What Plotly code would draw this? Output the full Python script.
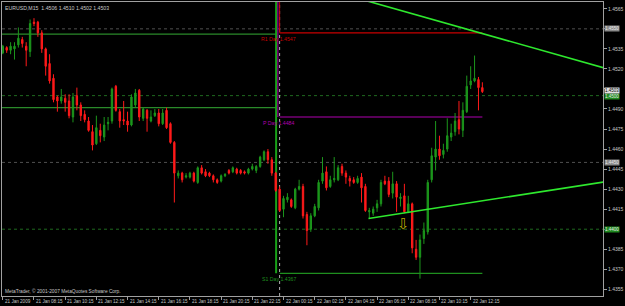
import plotly.graph_objects as go

# ---------------- data ----------------
bars = list(range(124))
open_ = [1.4532, 1.4536, 1.4534, 1.4535, 1.4538, 1.4542, 1.4537, 1.4533, 1.4555, 1.4555,
         1.4547, 1.4535, 1.4524, 1.4513, 1.4499, 1.4496, 1.4498, 1.4496, 1.4484, 1.4500,
         1.4493, 1.4486, 1.4481, 1.4473, 1.4464, 1.4474, 1.4469, 1.4479, 1.4481, 1.4507,
         1.4488, 1.4482, 1.4481, 1.4478, 1.4493, 1.4504, 1.4483, 1.4489, 1.4481, 1.4485,
         1.4487, 1.4479, 1.4489, 1.4479, 1.4465, 1.4440, 1.4442, 1.4439, 1.4439, 1.4442,
         1.4435, 1.4446, 1.4443, 1.4442, 1.4440, 1.4437, 1.4436, 1.4440, 1.4444, 1.4443,
         1.4445, 1.4444, 1.4443, 1.4442, 1.4445, 1.4444, 1.4447, 1.4452, 1.4458, 1.4452,
         1.4442, 1.4430, 1.4415, 1.4422, 1.4422, 1.4416, 1.4430, 1.4432, 1.4411, 1.4400,
         1.4410, 1.4416, 1.4436, 1.4443, 1.4432, 1.4437, 1.4437, 1.4447, 1.4442, 1.4438,
         1.4437, 1.4435, 1.4439, 1.4432, 1.4413, 1.4412, 1.4416, 1.4419, 1.4436, 1.4436,
         1.4427, 1.4434, 1.4423, 1.4425, 1.4413, 1.4419, 1.4385, 1.4379, 1.4393, 1.4398,
         1.4437, 1.4454, 1.4460, 1.4456, 1.4460, 1.4469, 1.4473, 1.4482, 1.4474, 1.4488,
         1.4508, 1.4511, 1.4512, 1.4506]
high = [1.4538, 1.4537, 1.4540, 1.4540, 1.4551, 1.4544, 1.4540, 1.4557, 1.4558, 1.4556,
        1.4549, 1.4536, 1.4531, 1.4516, 1.4500, 1.4505, 1.4501, 1.4501, 1.4502, 1.4506,
        1.4495, 1.4489, 1.4484, 1.4478, 1.4485, 1.4479, 1.4484, 1.4484, 1.4506, 1.4508,
        1.4490, 1.4496, 1.4488, 1.4501, 1.4505, 1.4505, 1.4491, 1.4490, 1.4489, 1.4490,
        1.4490, 1.4490, 1.4491, 1.4480, 1.4466, 1.4444, 1.4443, 1.4442, 1.4443, 1.4443,
        1.4447, 1.4448, 1.4445, 1.4443, 1.4441, 1.4438, 1.4441, 1.4442, 1.4445, 1.4447,
        1.4446, 1.4445, 1.4444, 1.4446, 1.4449, 1.4448, 1.4455, 1.4459, 1.4460, 1.4454,
        1.4443, 1.4432, 1.4425, 1.4427, 1.4423, 1.4431, 1.4437, 1.4434, 1.4413, 1.4412,
        1.4419, 1.4437, 1.4454, 1.4447, 1.4440, 1.4454, 1.4448, 1.4449, 1.4444, 1.4440,
        1.4439, 1.4440, 1.4442, 1.4434, 1.4416, 1.4417, 1.4422, 1.4437, 1.4440, 1.4439,
        1.4443, 1.4436, 1.4427, 1.4434, 1.4425, 1.4420, 1.4392, 1.4396, 1.4405, 1.4437,
        1.4461, 1.4481, 1.4470, 1.4464, 1.4483, 1.4479, 1.4487, 1.4496, 1.4495, 1.4515,
        1.4522, 1.4530, 1.4514, 1.4510]
low = [1.4531, 1.4532, 1.4531, 1.4527, 1.4536, 1.4536, 1.4522, 1.4529, 1.4552, 1.4544,
       1.4532, 1.4515, 1.4509, 1.4495, 1.4488, 1.4494, 1.4488, 1.4483, 1.4480, 1.4489,
       1.4481, 1.4480, 1.4473, 1.4459, 1.4463, 1.4465, 1.4466, 1.4474, 1.4479, 1.4488,
       1.4476, 1.4478, 1.4473, 1.4477, 1.4491, 1.4481, 1.4481, 1.4473, 1.4480, 1.4484,
       1.4477, 1.4478, 1.4475, 1.4464, 1.4420, 1.4438, 1.4435, 1.4438, 1.4438, 1.4435,
       1.4434, 1.4441, 1.4439, 1.4439, 1.4435, 1.4434, 1.4435, 1.4439, 1.4441, 1.4442,
       1.4441, 1.4441, 1.4441, 1.4441, 1.4444, 1.4442, 1.4446, 1.4451, 1.4449, 1.4440,
       1.4428, 1.4413, 1.4409, 1.4420, 1.4416, 1.4415, 1.4429, 1.4408, 1.4388, 1.4398,
       1.4409, 1.4414, 1.4434, 1.4429, 1.4431, 1.4435, 1.4436, 1.4440, 1.4434, 1.4432,
       1.4434, 1.4434, 1.4420, 1.4413, 1.4408, 1.4410, 1.4413, 1.4417, 1.4433, 1.4424,
       1.4423, 1.4413, 1.4417, 1.4412, 1.4412, 1.4382, 1.4377, 1.4363, 1.4389, 1.4396,
       1.4435, 1.4444, 1.4452, 1.4453, 1.4458, 1.4466, 1.4470, 1.4471, 1.4469, 1.4487,
       1.4505, 1.4510, 1.4489, 1.4502]
close = [1.4537, 1.4534, 1.4537, 1.4537, 1.4543, 1.4539, 1.4534, 1.4554, 1.4554, 1.4547,
         1.4535, 1.4522, 1.4511, 1.4497, 1.4496, 1.4499, 1.4495, 1.4485, 1.4499, 1.4493,
         1.4485, 1.4482, 1.4474, 1.4463, 1.4476, 1.4470, 1.4478, 1.4480, 1.4505, 1.4489,
         1.4481, 1.4481, 1.4478, 1.4499, 1.4502, 1.4484, 1.4490, 1.4483, 1.4484, 1.4487,
         1.4479, 1.4487, 1.4476, 1.4465, 1.4442, 1.4442, 1.4437, 1.4440, 1.4442, 1.4436,
         1.4446, 1.4442, 1.4440, 1.4440, 1.4437, 1.4435, 1.4440, 1.4441, 1.4442, 1.4446,
         1.4442, 1.4442, 1.4442, 1.4445, 1.4447, 1.4447, 1.4454, 1.4458, 1.4452, 1.4442,
         1.4429, 1.4414, 1.4423, 1.4424, 1.4417, 1.4430, 1.4432, 1.4410, 1.4399, 1.4410,
         1.4417, 1.4435, 1.4442, 1.4431, 1.4437, 1.4438, 1.4446, 1.4442, 1.4439, 1.4436,
         1.4435, 1.4438, 1.4431, 1.4414, 1.4414, 1.4415, 1.4419, 1.4435, 1.4434, 1.4426,
         1.4434, 1.4424, 1.4424, 1.4413, 1.4419, 1.4386, 1.4379, 1.4392, 1.4399, 1.4435,
         1.4455, 1.4460, 1.4455, 1.4459, 1.4470, 1.4472, 1.4481, 1.4475, 1.4489, 1.4507,
         1.4511, 1.4513, 1.4506, 1.4503]

tick_bars = [0, 8, 16, 24, 32, 40, 48, 56, 64, 72, 80, 88, 96, 104, 112, 120]
tick_labels = ["21 Jan 2009", "21 Jan 08:15", "21 Jan 10:15", "21 Jan 12:15",
               "21 Jan 14:15", "21 Jan 16:15", "21 Jan 18:15", "21 Jan 20:15",
               "21 Jan 22:15", "22 Jan 00:15", "22 Jan 02:15", "22 Jan 04:15",
               "22 Jan 06:15", "22 Jan 08:15", "22 Jan 10:15", "22 Jan 12:15"]
price_ticks = [1.4355, 1.4370, 1.4385, 1.4400, 1.4415, 1.4430, 1.4445, 1.4460,
               1.4475, 1.4490, 1.4505, 1.4520, 1.4535, 1.4550, 1.4565]

round_levels = [1.4550, 1.4500, 1.4450, 1.4400]
round_colors = ["#505050", "#1f6a1f", "#505050", "#1f6a1f"]
round_box_bg = ["#8a8a8a", "#1f8a1f", "#8a8a8a", "#1f8a1f"]

pivot_names = ["R1 Day", "P Day", "S1 Day"]
pivot_levels = [1.4547, 1.4484, 1.4367]
pivot_colors = ["#c80000", "#b000b0", "#1f8f1f"]
pivot_bar_start = 71
pivot_bar_end = 123

prev_levels = [1.4546, 1.4491]
prev_bar_end = 70.1

separator_bar = 71

trend1_x = [93.3, 160]
trend1_y = [1.4571, 1.4516]
trend2_x = [93.8, 160]
trend2_y = [1.4408, 1.4438]

arrow_bar = 102.8
arrow_price = 1.4404

symbol = "EURUSD,M15"

# ---------------- figure ----------------
BG = "#000000"
TXT = "#c8c8c8"
FONT = "Liberation Sans"

fig = go.Figure()

# price-axis labels hidden where a highlight box sits on top of them
boxed = set(round_levels) | {1.4505}
tick_text = ["" if p in boxed else f"{p:.4f}" for p in price_ticks]

shapes = []
for lv, col in zip(round_levels, round_colors):
    shapes.append(dict(type="line", xref="paper", x0=0, x1=1, yref="y", y0=lv, y1=lv,
                       line=dict(color=col, width=1, dash="dot"), layer="below"))
for lv in prev_levels:
    shapes.append(dict(type="line", xref="x", x0=-1, x1=prev_bar_end, yref="y", y0=lv, y1=lv,
                       line=dict(color="#2a8a2a", width=1.3), layer="below"))
shapes.append(dict(type="line", xref="x", x0=separator_bar, x1=separator_bar, yref="paper", y0=0, y1=1,
                   line=dict(color="#b0b0b0", width=1, dash="dot"), layer="below"))
shapes.append(dict(type="line", xref="x", x0=prev_bar_end, x1=prev_bar_end, yref="y",
                   y0=pivot_levels[2], y1=1.4580, line=dict(color="#18a018", width=2), layer="below"))
shapes.append(dict(type="line", xref="x", x0=prev_bar_end + 0.45, x1=prev_bar_end + 0.45, yref="y",
                   y0=pivot_levels[1], y1=1.4580, line=dict(color="#b000b0", width=1), layer="below"))
shapes.append(dict(type="line", xref="x", x0=pivot_bar_start, x1=pivot_bar_start, yref="y",
                   y0=pivot_levels[0], y1=1.4580, line=dict(color="#c80000", width=1), layer="below"))
for lv, col in zip(pivot_levels, pivot_colors):
    shapes.append(dict(type="line", xref="x", x0=pivot_bar_start, x1=pivot_bar_end, yref="y", y0=lv, y1=lv,
                       line=dict(color=col, width=1.2), layer="below"))

fig.add_trace(go.Candlestick(
    x=bars, open=open_, high=high, low=low, close=close,
    increasing=dict(line=dict(color="#1c961c", width=1), fillcolor="#1c961c"),
    decreasing=dict(line=dict(color="#ff1a1a", width=1), fillcolor="#ff1a1a"),
    whiskerwidth=0, showlegend=False, hoverinfo="skip"))

for tx, ty in ((trend1_x, trend1_y), (trend2_x, trend2_y)):
    fig.add_trace(go.Scatter(x=tx, y=ty, mode="lines", line=dict(color="#2ee82e", width=1.6),
                             showlegend=False, hoverinfo="skip"))

annotations = []
annotations.append(dict(xref="paper", yref="paper", x=0, y=1, xanchor="left", yanchor="top",
                        xshift=1, yshift=-1, showarrow=False,
                        text=f"{symbol}  {open_[-1]:.4f} {high[-1]:.4f} {low[-1]:.4f} {close[-1]:.4f}",
                        font=dict(family=FONT, size=5.2, color=TXT)))
annotations.append(dict(xref="paper", yref="paper", x=0, y=0, xanchor="left", yanchor="bottom",
                        xshift=1, yshift=0, showarrow=False,
                        text="MetaTrader, © 2001-2007 MetaQuotes Software Corp.",
                        font=dict(family=FONT, size=4.8, color=TXT)))
for b, lab in zip(tick_bars, tick_labels):
    annotations.append(dict(xref="x", yref="paper", x=b, y=0, xanchor="left", yanchor="top",
                            xshift=0, yshift=-1, showarrow=False, text=lab,
                            font=dict(family=FONT, size=4.6, color=TXT)))
for name, lv, col in zip(pivot_names, pivot_levels, pivot_colors):
    annotations.append(dict(xref="x", yref="y", x=pivot_bar_start, y=lv, xanchor="center", yanchor="top",
                            xshift=-1, yshift=-1, showarrow=False, text=f"{name} {lv:.4f}",
                            font=dict(family=FONT, size=5.2, color=col)))
for lv, bg in zip(round_levels, round_box_bg):
    annotations.append(dict(xref="paper", yref="y", x=1, y=lv, xanchor="left", yanchor="middle",
                            xshift=1, yshift=(-1 if lv == 1.4500 else 0), showarrow=False,
                            text=f"{lv:.4f}", bgcolor=bg, borderpad=0,
                            font=dict(family=FONT, size=4.5, color="#e8e8e8")))
annotations.append(dict(xref="paper", yref="y", x=1, y=close[-1], xanchor="left", yanchor="middle",
                        xshift=1, yshift=1, showarrow=False, text=f"{close[-1]:.4f}", bgcolor="#e0e0e0",
                        borderpad=0, font=dict(family=FONT, size=4.5, color="#000000")))
annotations.append(dict(xref="x", yref="y", x=arrow_bar, y=arrow_price, showarrow=False, text="⇩",
                        font=dict(family="DejaVu Sans", size=15, color="#b4a800")))

fig.update_layout(
    width=625, height=306,
    margin=dict(l=1, r=19, t=1, b=10),
    paper_bgcolor=BG, plot_bgcolor=BG,
    boxgap=0.5,
    shapes=shapes, annotations=annotations,
    showlegend=False,
    xaxis=dict(range=[-0.204, 153.94], rangeslider=dict(visible=False), showgrid=False, zeroline=False,
               tickvals=tick_bars, showticklabels=False, ticks="outside", ticklen=3, tickcolor="#a0a0a0",
               showline=True, linecolor="#a0a0a0", linewidth=1, mirror=True, fixedrange=True),
    yaxis=dict(range=[1.4350, 1.45701], side="right", showgrid=False, zeroline=False,
               tickvals=price_ticks, ticktext=tick_text,
               ticks="outside", ticklen=3, tickcolor="#a0a0a0",
               tickfont=dict(family=FONT, size=5, color=TXT),
               showline=True, linecolor="#a0a0a0", linewidth=1, mirror=True, fixedrange=True),
)

fig.write_html("out.html")
